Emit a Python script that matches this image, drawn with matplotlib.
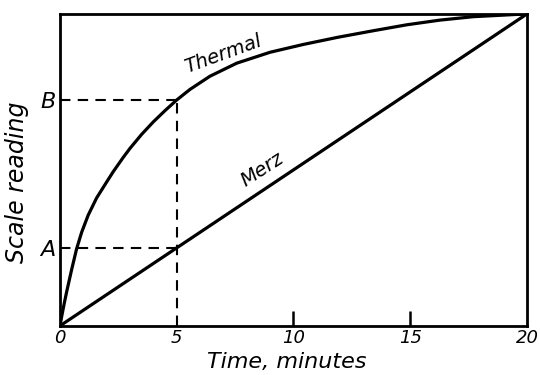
import matplotlib
matplotlib.use('Agg')
import matplotlib.pyplot as plt

# readings taken off the curves (scale reading normalised to 1 at 20 min)
time_thermal = [0, 0.1, 0.2, 0.29, 0.5, 0.71, 0.93, 1.21, 1.57, 1.99, 2.28, 2.71,
                3.0, 3.5, 4.0, 4.5, 5.0, 5.57, 6.42, 7.57, 9.0, 10.42, 11.9,
                13.42, 14.85, 16.27, 17.7, 20]
thermal = [0, 0.04, 0.078, 0.11, 0.18, 0.246, 0.30, 0.355, 0.41, 0.46, 0.494, 0.54,
           0.569, 0.614, 0.654, 0.69, 0.724, 0.758, 0.80, 0.842, 0.877, 0.902, 0.925,
           0.946, 0.965, 0.98, 0.991, 1.0]
time_merz = [0, 20]
merz = [0, 1.0]

mark_t = 5
level_a = 0.25
level_b = 0.724
xticks = [0, 5, 10, 15, 20]

font = {'family': 'DejaVu Sans', 'style': 'oblique'}

fig = plt.figure(figsize=(5.4, 3.75), dpi=100)
ax = fig.add_axes([0.111, 0.131, 0.865, 0.832])

ax.plot(time_thermal, thermal, color='black', lw=2.3, solid_capstyle='round',
        solid_joinstyle='round')
ax.plot(time_merz, merz, color='black', lw=2.3, solid_capstyle='round')

dash = dict(color='black', lw=1.5, linestyle=(0, (5, 3.5)))
ax.plot([0, mark_t], [level_a, level_a], **dash)
ax.plot([0, mark_t], [level_b, level_b], **dash)
ax.plot([mark_t, mark_t], [0, level_b], **dash)

ax.set_xlim(0, 20)
ax.set_ylim(0, 1)

ax.set_xticks(xticks)
ax.set_xticklabels([str(v) for v in xticks], fontsize=13, **font)
ax.tick_params(axis='x', direction='in', length=11, width=1.8, pad=2)
for i, t in enumerate(ax.xaxis.get_major_ticks()):
    if xticks[i] in (0, 5, 20):
        t.tick1line.set_visible(False)
ax.set_yticks([level_a, level_b])
ax.set_yticklabels(['A', 'B'], fontsize=16, **font)
ax.tick_params(axis='y', length=0, pad=3)

for s in ax.spines.values():
    s.set_linewidth(2.0)

ax.set_xlabel('Time, minutes', fontsize=16, **font)
ax.xaxis.set_label_coords(0.486, -0.083)
ax.set_ylabel('Scale reading', fontsize=17, **font)
ax.yaxis.set_label_coords(-0.066, 0.46)

ax.text(7.0, 0.872, 'Thermal', rotation=20, fontsize=14, ha='center', va='center', **font)
ax.text(8.65, 0.50, 'Merz', rotation=33, fontsize=14, ha='center', va='center', **font)

fig.savefig('out.png', dpi=100)
